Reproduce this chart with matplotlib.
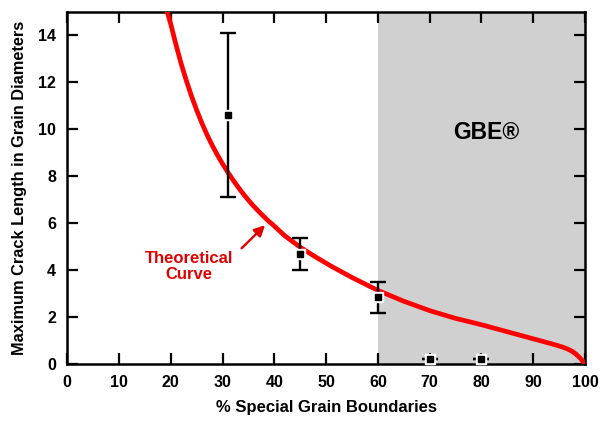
import matplotlib.pyplot as plt

plt.rcParams["font.family"] = ["Liberation Sans", "DejaVu Sans"]
plt.rcParams["font.weight"] = "bold"

# theoretical curve
curve_x = [19.2, 20, 21, 22, 23, 24, 25, 26, 27, 28, 29, 30, 31, 32, 33, 34, 35,
           36, 37, 38, 39, 40, 42, 45, 48, 51, 55, 60, 65, 70, 75, 80, 85, 90,
           92, 94, 95.5, 96.5, 97.5, 98.3, 99, 99.5, 100]
curve_y = [15.1, 14.48, 13.61, 12.8, 12.08, 11.42, 10.82, 10.27, 9.77, 9.32, 8.91,
           8.53, 8.18, 7.85, 7.54, 7.25, 6.98, 6.73, 6.5, 6.28, 6.07, 5.88, 5.47,
           4.98, 4.56, 4.17, 3.69, 3.14, 2.68, 2.28, 1.95, 1.68, 1.38, 1.08,
           0.96, 0.84, 0.74, 0.66, 0.55, 0.42, 0.27, 0.15, 0.0]

# measured crack lengths
meas_x = [31, 45, 60, 70, 80]
meas_y = [10.6, 4.7, 2.85, 0.2, 0.2]
meas_err = [3.5, 0.68, 0.65, 0.0, 0.0]

fig = plt.figure(figsize=(6.05, 4.22), dpi=100)
ax = fig.add_axes([0.111, 0.137, 0.856, 0.835])

ax.axvspan(60, 100, color="#d0d0d0", zorder=0, lw=0)
ax.plot(curve_x, curve_y, color="#ff0000", lw=3.4, solid_capstyle="butt",
        solid_joinstyle="round", zorder=3)
ax.errorbar(meas_x, meas_y, yerr=meas_err, fmt="none", ecolor="black",
            elinewidth=1.7, capsize=6, capthick=1.7, zorder=4)
# white halo then black square marker
ax.plot(meas_x, meas_y, "s", color="white", ms=7, zorder=5, clip_on=False)
ax.plot(meas_x, meas_y, "s", color="black", ms=4, zorder=6, clip_on=False)

ax.text(80.9, 9.85, "GBE\u00ae", fontsize=16.5, fontweight="bold", ha="center",
        va="center")
ax.text(23.6, 4.15, "Theoretical\nCurve", color="#e00000", fontsize=12,
        fontweight="bold", ha="center", va="center", linespacing=1.1)
ax.annotate("", xy=(38.6, 6.0), xytext=(33.3, 4.85),
            arrowprops=dict(arrowstyle="-|>", color="#e00000", lw=1.7,
                            mutation_scale=16))

ax.set_xlim(0, 100)
ax.set_ylim(0, 15)
ax.set_xticks(range(0, 101, 10))
ax.set_yticks(range(0, 15, 2))
ax.tick_params(direction="in", top=True, right=True, width=1.6, length=8,
               labelsize=11.5, pad=8)
for lab in ax.get_xticklabels() + ax.get_yticklabels():
    lab.set_fontweight("bold")
for s in ax.spines.values():
    s.set_linewidth(1.8)

ax.set_xlabel("% Special Grain Boundaries", fontsize=12, fontweight="bold",
              labelpad=7)
ax.set_ylabel("Maximum Crack Length in Grain Diameters", fontsize=11.8,
              fontweight="bold", labelpad=8)

fig.savefig("out.png", dpi=100)
